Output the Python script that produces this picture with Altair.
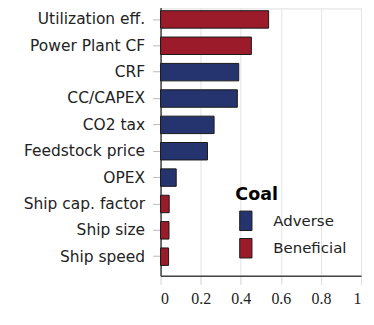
import altair as alt
import pandas as pd

factors = ["Utilization eff.", "Power Plant CF", "CRF", "CC/CAPEX", "CO2 tax",
           "Feedstock price", "OPEX", "Ship cap. factor", "Ship size", "Ship speed"]
values = [0.539, 0.453, 0.390, 0.383, 0.267, 0.234, 0.078, 0.043, 0.042, 0.040]
effects = ["Beneficial", "Beneficial", "Adverse", "Adverse", "Adverse",
           "Adverse", "Adverse", "Beneficial", "Beneficial", "Beneficial"]
x_ticks = [0, 0.2, 0.4, 0.6, 0.8, 1]

df = pd.DataFrame({"factor": factors, "value": values, "effect": effects})

chart = alt.Chart(df).mark_bar(
    stroke="#1a1a1a", strokeWidth=1
).encode(
    x=alt.X("value:Q",
            scale=alt.Scale(domain=[0, 1], nice=False),
            axis=alt.Axis(title=None, values=x_ticks, format="~g",
                          labelFont="Liberation Serif", labelFontSize=16, labelColor="#222",
                          labelPadding=6,
                          domainColor="#444", domainWidth=1.5,
                          tickColor="#e0e0e0", tickSize=9,
                          grid=True, gridColor="#e3e3e3", gridWidth=1)),
    y=alt.Y("factor:N", sort=factors,
            scale=alt.Scale(range=[-8, 268], paddingInner=0.338, paddingOuter=0.389),
            axis=alt.Axis(title=None, labelFont="DejaVu Sans", labelFontSize=15.5,
                          labelColor="#222", labelPadding=8,
                          minExtent=153, maxExtent=153,
                          domainColor="#444", domainWidth=1.5,
                          tickColor="#bbbbbb", tickSize=8, grid=False)),
    color=alt.Color("effect:N",
                    scale=alt.Scale(domain=["Adverse", "Beneficial"],
                                    range=["#25346e", "#9b1b2a"]),
                    legend=alt.Legend(title="Coal", orient="none",
                                      legendX=75, legendY=178,
                                      titleFont="DejaVu Sans", titleFontSize=17.5,
                                      titleFontWeight="bold", titleColor="#000",
                                      titlePadding=7,
                                      labelFont="DejaVu Sans", labelFontSize=15,
                                      labelColor="#222", labelOffset=17,
                                      symbolType="M-0.63,-1H0.63V1H-0.63Z",
                                      symbolSize=380, symbolStrokeColor="#1a1a1a",
                                      symbolStrokeWidth=1, rowPadding=2.5,
                                      padding=0))
).properties(width=201, height=268, padding={"left": 0, "top": 0, "right": 4, "bottom": 0}
).configure_view(stroke=None).configure(background="white")

chart.save("out.html", embed_options={"renderer": "svg", "actions": False})
